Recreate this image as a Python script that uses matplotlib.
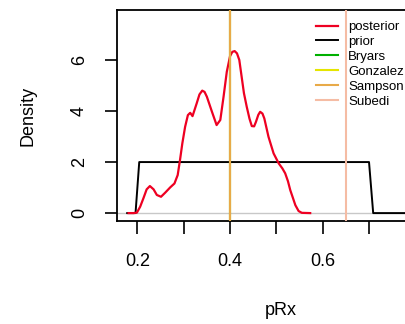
import matplotlib
matplotlib.use("Agg")
import matplotlib.pyplot as plt

# posterior density
post_x = [0.181, 0.192, 0.199, 0.206, 0.213, 0.220, 0.227, 0.235, 0.242, 0.251,
          0.260, 0.271, 0.280, 0.287, 0.292, 0.297, 0.303, 0.309, 0.314, 0.319,
          0.328, 0.334, 0.340, 0.345, 0.350, 0.361, 0.371, 0.379, 0.386, 0.393,
          0.400, 0.405, 0.410, 0.415, 0.420, 0.425, 0.430, 0.436, 0.442, 0.447,
          0.452, 0.456, 0.461, 0.465, 0.470, 0.474, 0.483, 0.494, 0.505, 0.513,
          0.519, 0.525, 0.530, 0.536, 0.541, 0.548, 0.555, 0.573]
post_y = [0.0, 0.0, 0.02, 0.25, 0.58, 0.93, 1.06, 0.93, 0.71, 0.64,
          0.80, 1.01, 1.16, 1.49, 2.08, 2.73, 3.38, 3.84, 3.93, 3.80,
          4.30, 4.65, 4.80, 4.75, 4.56, 3.97, 3.45, 3.65, 4.56, 5.54,
          6.15, 6.32, 6.35, 6.26, 6.00, 5.35, 4.70, 4.17, 3.70, 3.41,
          3.40, 3.58, 3.85, 3.97, 3.90, 3.71, 2.99, 2.34, 1.95, 1.75,
          1.56, 1.25, 0.90, 0.58, 0.31, 0.08, 0.01, 0.0]

# prior density
prior_x = [0.178, 0.196, 0.204, 0.700, 0.709, 0.86]
prior_y = [0.0, 0.0, 2.0, 2.0, 0.0, 0.0]

# reference values
ref_names = ["Bryars", "Gonzalez", "Sampson", "Subedi"]
ref_values = [0.40, 0.40, 0.40, 0.651]
ref_colors = ["#00B000", "#E5E500", "#E8AA48", "#F5BCA4"]

x_ticks = [0.2, 0.3, 0.4, 0.5, 0.6, 0.7]
x_ticklabels = ["0.2", "", "0.4", "", "0.6", ""]
y_ticks = [0, 2, 4, 6]

plt.rcParams["font.family"] = ["Liberation Sans", "DejaVu Sans"]

fig = plt.figure(figsize=(4.05, 3.24), dpi=100)
ax = fig.add_axes([117 / 405, 1 - 221 / 324, (445 - 117) / 405, (221 - 10) / 324])

ax.axhline(0, color="#C8C8C8", linewidth=1.0, zorder=1)
ax.plot(post_x, post_y, color="#EE0022", linewidth=1.6, label="posterior",
        zorder=3, solid_joinstyle="round")
ax.plot(prior_x, prior_y, color="black", linewidth=1.4, label="prior", zorder=2)
for name, val, col in zip(ref_names, ref_values, ref_colors):
    ax.axvline(val, color=col, linewidth=1.5, label=name, zorder=4)

ax.set_xlim(0.156, 0.864)
ax.set_ylim(-0.31, 7.96)
ax.set_xticks(x_ticks)
ax.set_xticklabels(x_ticklabels)
ax.set_yticks(y_ticks)
ax.set_yticklabels([str(v) for v in y_ticks], rotation=90, va="center")
ax.tick_params(length=9, width=1.2, labelsize=13, pad=12)
ax.tick_params(axis="x", pad=14)
for sp in ax.spines.values():
    sp.set_linewidth(1.3)

ax.set_xlabel("pRx", fontsize=13, labelpad=23)
ax.set_ylabel("Density", fontsize=13, labelpad=25)

ax.legend(loc="upper left", bbox_to_anchor=(316 / 405, 1 - 21 / 324),
          bbox_transform=fig.transFigure, frameon=False, fontsize=9.5,
          handlelength=1.7, handletextpad=0.75, labelspacing=0.2,
          borderaxespad=0, borderpad=0)

fig.savefig("out.png", dpi=100)
